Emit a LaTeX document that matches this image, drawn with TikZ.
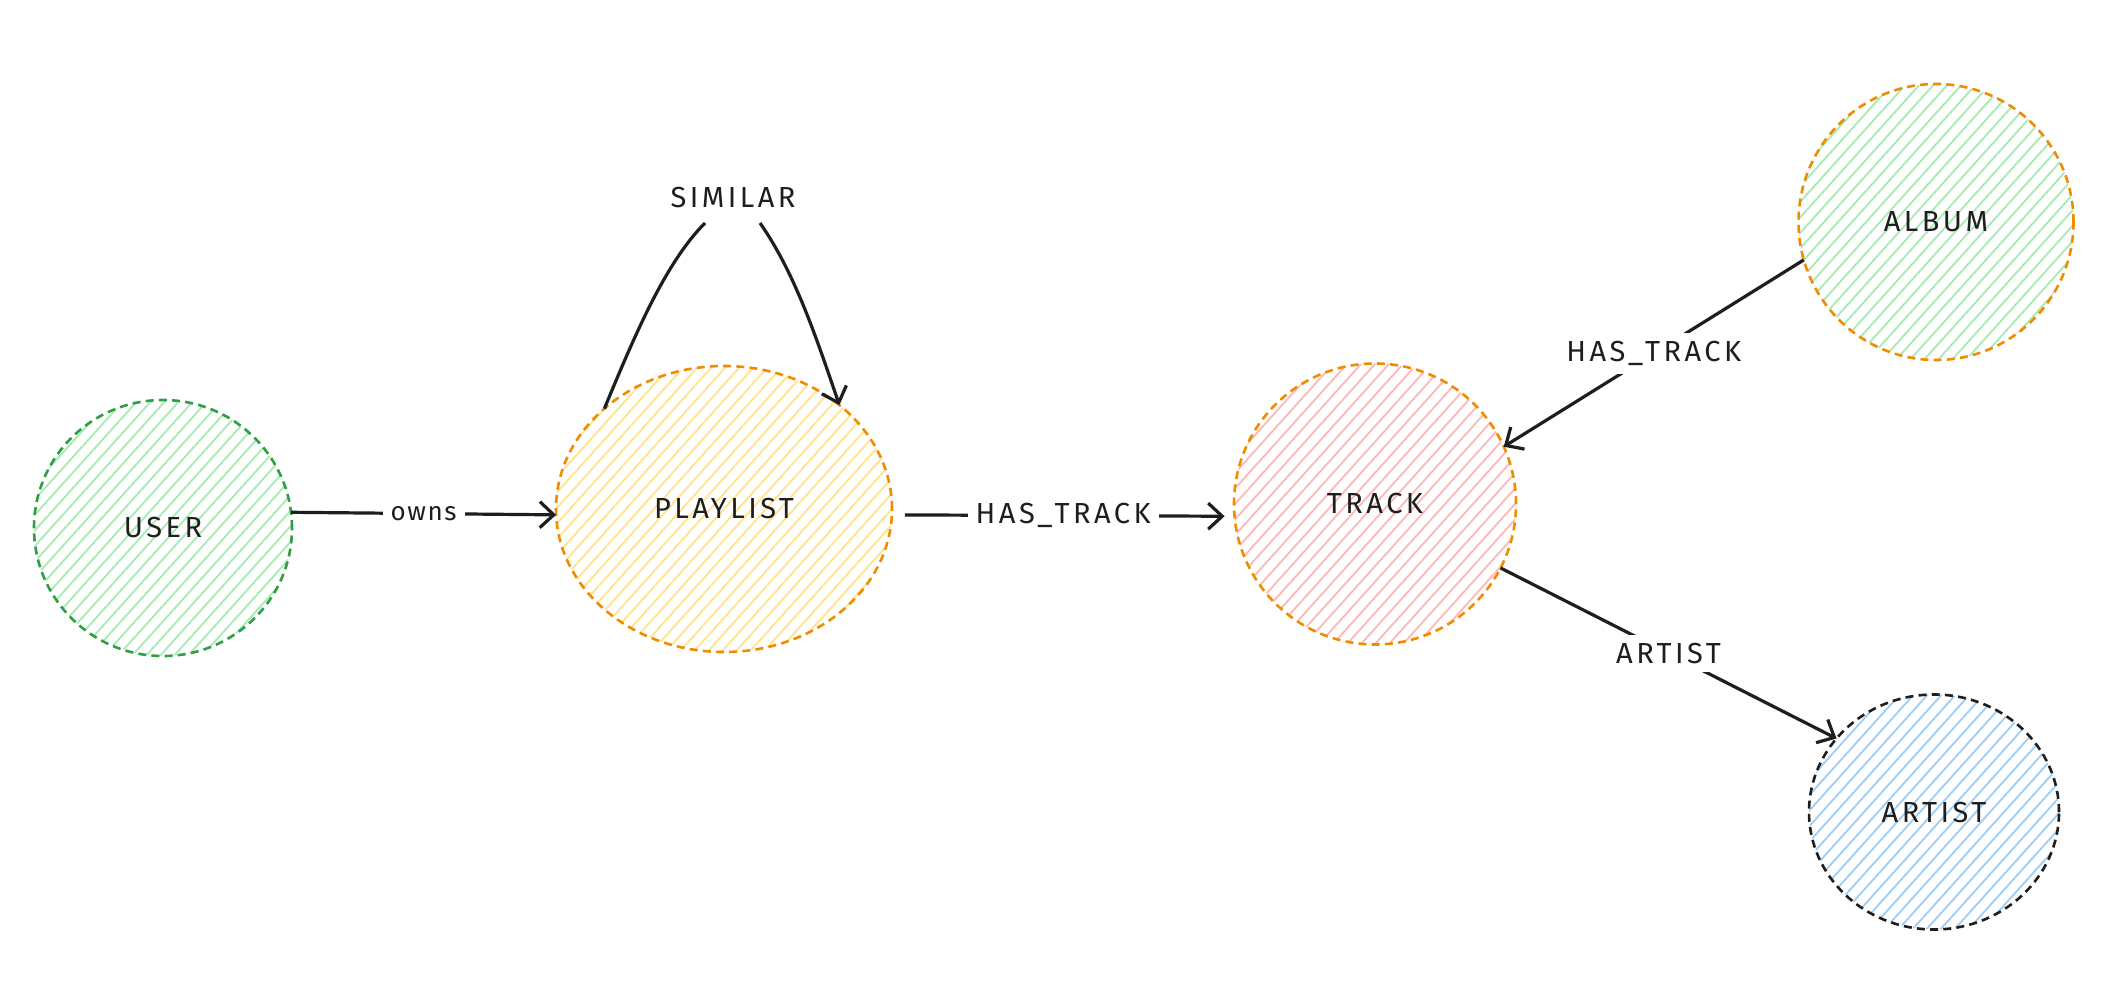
\documentclass[tikz,border=0pt]{standalone}
\usepackage{fontspec}
\setmainfont{Fira Sans}[LetterSpace=12]
\newfontfamily\smallfont{Fira Sans}[LetterSpace=6]
\usetikzlibrary{shapes.geometric,arrows.meta}
\definecolor{ink}{HTML}{1E1E1E}
\definecolor{gborder}{HTML}{2F9E44}
\definecolor{oborder}{HTML}{F08C00}
\definecolor{kborder}{HTML}{1E1E1E}
\definecolor{ghatch}{HTML}{A6EBB1}
\definecolor{yhatch}{HTML}{FFE48A}
\definecolor{rhatch}{HTML}{FFB8B8}
\definecolor{bhatch}{HTML}{9CCEF7}
\tikzset{
  ent/.style={ellipse, line width=1.3pt, dash pattern=on 4pt off 2.6pt,
    inner sep=0pt, outer sep=0pt, text=ink, font=\fontsize{14.5}{17}\selectfont},
  hatch/.style={path picture={
    \foreach \t in {-350,-336,...,350}
      \draw[#1, solid, line width=0.9pt]
        ([xshift=\t*0.5pt-90pt, yshift=-100pt]path picture bounding box.center) --
        ([xshift=\t*0.5pt+90pt, yshift=100pt]path picture bounding box.center);}},
  rel/.style={draw=ink, line width=1.6pt, -{Straight Barb[length=7pt,width=13pt]}},
  plain/.style={draw=ink, line width=1.6pt},
  lbl/.style={fill=white, text=ink, inner sep=4pt, font=\fontsize{14.5}{17}\selectfont},
  txt/.style={text=ink, font=\fontsize{14.5}{17}\selectfont}
}
\begin{document}
\begin{tikzpicture}[x=0.5pt,y=-0.5pt]
\useasboundingbox[fill=white] (0,0) rectangle (2128,984);
% entities
\node[ent, draw=gborder, hatch=ghatch, minimum width=129pt, minimum height=128pt] (user) at (163,528) {USER};
\node[ent, draw=oborder, hatch=yhatch, minimum width=168pt, minimum height=143pt] (pl) at (724,509) {PLAYLIST};
\node[ent, draw=oborder, hatch=rhatch, minimum width=141pt, minimum height=140.5pt] (tr) at (1375,504) {TRACK};
\node[ent, draw=oborder, hatch=ghatch, minimum width=137.5pt, minimum height=138pt] (al) at (1936,222) {ALBUM};
\node[ent, draw=kborder, hatch=bhatch, minimum width=125pt, minimum height=117.5pt] (ar) at (1934,812) {ARTIST};
% SIMILAR self loop
\node[txt] (sim) at (733,198) {SIMILAR};
\coordinate (s1) at (705,223);
\coordinate (s2) at (760,223);
\draw[plain] (pl.140) .. controls (634,337) and (665,263) .. (s1);
\draw[rel] (s2) .. controls (795,273) and (816,337) .. (pl.42);
% relations
\draw[rel] (user.7) -- node[lbl, font=\smallfont\fontsize{13}{15}\selectfont]{owns} (pl.182);
\draw[rel, shorten <=6.5pt, shorten >=5pt] (pl.-2) -- node[lbl]{HAS\_TRACK} (tr.185);
\draw[rel] (al.196) -- node[lbl]{HAS\_TRACK} (tr.24);
\draw[rel] (tr.-27) -- node[lbl]{ARTIST} (ar.143);
\end{tikzpicture}
\end{document}
